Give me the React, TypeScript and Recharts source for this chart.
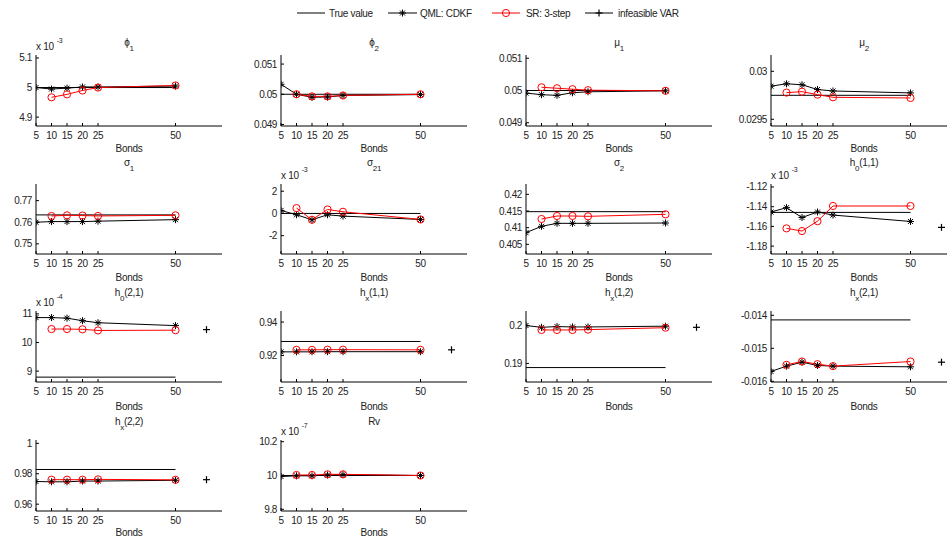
import React from "react";
import { Line, LineChart, XAxis, YAxis } from "recharts";

// x positions (number of bonds)
const bonds = [5, 10, 15, 20, 25, 50];
const srBonds = [10, 15, 20, 25, 50];
const trueSpan = [5, 50];
const varBond = 60;
const xTicks = [5, 10, 15, 20, 25, 50];

// QML: CDKF estimates (one per bond count)
const phi1Qml = [5.0, 4.995, 4.998, 5.002, 5.002, 5.005];
const phi2Qml = [0.05033, 0.05, 0.0499, 0.04991, 0.04996, 0.04999];
const mu1Qml = [0.04992, 0.04987, 0.04985, 0.04993, 0.04996, 0.04999];
const mu2Qml = [0.029845, 0.02987, 0.02986, 0.02981, 0.029795, 0.029775];
const sigma1Qml = [0.76, 0.7603, 0.7603, 0.7603, 0.7605, 0.7612];
const sigma21Qml = [0.27, -0.12, -0.57, -0.12, -0.24, -0.54];
const sigma2Qml = [0.4085, 0.4104, 0.4113, 0.4113, 0.4113, 0.4114];
const h011Qml = [-1.1454, -1.141, -1.151, -1.1454, -1.1485, -1.155];
const h021Qml = [10.87, 10.87, 10.85, 10.76, 10.69, 10.59];
const hx11Qml = [0.9222, 0.9222, 0.9222, 0.9223, 0.9223, 0.9223];
const hx12Qml = [0.19997, 0.1995, 0.1997, 0.1996, 0.1996, 0.1998];
const hx21Qml = [-0.0157, -0.01554, -0.01542, -0.01552, -0.01554, -0.01556];
const hx22Qml = [0.9749, 0.9747, 0.9747, 0.9752, 0.9752, 0.9757];
const rvQml = [9.994, 9.998, 9.998, 10.003, 10.005, 10.0];

// SR: 3-step estimates (from 10 bonds on)
const phi1Sr = [4.967, 4.977, 4.99, 5.0, 5.007];
const phi2Sr = [0.05, 0.04993, 0.04993, 0.04996, 0.05];
const mu1Sr = [0.0501, 0.05007, 0.05004, 0.05001, 0.04999];
const mu2Sr = [0.029778, 0.029788, 0.029757, 0.029729, 0.029722];
const sigma1Sr = [0.7629, 0.7632, 0.7631, 0.7629, 0.7632];
const sigma21Sr = [0.48, -0.57, 0.36, 0.15, -0.54];
const sigma2Sr = [0.4126, 0.4135, 0.4135, 0.4134, 0.414];
const h011Sr = [-1.162, -1.1647, -1.1547, -1.1393, -1.1393];
const h021Sr = [10.47, 10.47, 10.46, 10.42, 10.43];
const hx11Sr = [0.9234, 0.9234, 0.9235, 0.9235, 0.9234];
const hx12Sr = [0.1988, 0.1988, 0.1988, 0.1989, 0.1994];
const hx21Sr = [-0.0155, -0.0154, -0.01548, -0.01554, -0.0154];
const hx22Sr = [0.9761, 0.9761, 0.9761, 0.9763, 0.976];
const rvSr = [10.003, 10.003, 10.007, 10.007, 10.0];

const trueValues = [5, 0.05, 0.05, 0.02975, 0.7634, 0, 0.4148, -1.1458, 8.79, 0.9284, 0.1889, -0.01414, 0.9828, 10];
const varValues = [null, null, null, null, null, null, null, -1.161, 10.45, 0.9234, 0.1995, -0.01542, 0.9761, null];

const titles = [
  ["ϕ", "1", ""], ["ϕ", "2", ""], ["μ", "1", ""], ["μ", "2", ""],
  ["σ", "1", ""], ["σ", "21", ""], ["σ", "2", ""], ["h", "0", "(1,1)"],
  ["h", "0", "(2,1)"], ["h", "x", "(1,1)"], ["h", "x", "(1,2)"], ["h", "x", "(2,1)"],
  ["h", "x", "(2,2)"], ["Rv", "", ""],
];
const exponents = ["-3", null, null, null, null, "-3", null, "-3", "-4", null, null, null, null, "-7"];
const yDomains = [
  [4.87, 5.11], [0.04895, 0.0513], [0.0489, 0.0511], [0.02943, 0.03017],
  [0.7453, 0.7777], [-3.65, 2.65], [0.4021, 0.4231], [-1.188, -1.117],
  [8.62, 11.1], [0.9042, 0.9466], [0.1851, 0.2038], [-0.01602, -0.01387],
  [0.9555, 1.0022], [9.79, 10.21],
];
const yTicks = [
  [4.9, 5, 5.1], [0.049, 0.05, 0.051], [0.049, 0.05, 0.051], [0.0295, 0.03],
  [0.75, 0.76, 0.77], [-2, 0, 2], [0.405, 0.41, 0.415, 0.42], [-1.18, -1.16, -1.14, -1.12],
  [9, 10, 11], [0.92, 0.94], [0.19, 0.2], [-0.016, -0.015, -0.014],
  [0.96, 0.98, 1], [9.8, 10, 10.2],
];

const qmlSeries = [phi1Qml, phi2Qml, mu1Qml, mu2Qml, sigma1Qml, sigma21Qml, sigma2Qml, h011Qml, h021Qml, hx11Qml, hx12Qml, hx21Qml, hx22Qml, rvQml];
const srSeries = [phi1Sr, phi2Sr, mu1Sr, mu2Sr, sigma1Sr, sigma21Sr, sigma2Sr, h011Sr, h021Sr, hx11Sr, hx12Sr, hx21Sr, hx22Sr, rvSr];

const FONT = '"Liberation Sans", Arial, Helvetica, sans-serif';
const TEXT = "#222";
const COL_X = [36, 281, 526, 771];
const ROW_TOP = [55, 184, 311, 440];
const PLOT_H = [71, 70, 71, 71];
const TITLE_Y = [43, 163, 293, 422];
const BONDS_Y = [149, 278, 407, 533];
const PLOT_W = 186;
const LEFT_W = 40;

const Asterisk = (props: any) => {
  const { cx, cy, index } = props;
  if (cx == null || cy == null) return <g key={index} />;
  const r = 3.5;
  const d = 2.5;
  return (
    <g key={index} stroke="#000" strokeWidth={1}>
      <line x1={cx - r} y1={cy} x2={cx + r} y2={cy} />
      <line x1={cx} y1={cy - r} x2={cx} y2={cy + r} />
      <line x1={cx - d} y1={cy - d} x2={cx + d} y2={cy + d} />
      <line x1={cx - d} y1={cy + d} x2={cx + d} y2={cy - d} />
    </g>
  );
};

const Ring = (props: any) => {
  const { cx, cy, index } = props;
  if (cx == null || cy == null) return <g key={index} />;
  return <circle key={index} cx={cx} cy={cy} r={3.6} fill="none" stroke="#ff0000" strokeWidth={1} />;
};

const Plus = (props: any) => {
  const { cx, cy, index } = props;
  if (cx == null || cy == null) return <g key={index} />;
  const r = 3.5;
  return (
    <g key={index} stroke="#000" strokeWidth={1.2}>
      <line x1={cx - r} y1={cy} x2={cx + r} y2={cy} />
      <line x1={cx} y1={cy - r} x2={cx} y2={cy + r} />
    </g>
  );
};

const XTick = (props: any) => {
  const { x, y, payload } = props;
  return (
    <g>
      <line x1={x} y1={y - 6} x2={x} y2={y - 9} stroke="#000" />
      <text x={x} y={y} dy="0.71em" textAnchor="middle" fontSize={10} fontFamily={FONT} fill={TEXT} letterSpacing={-0.4}>
        {String(payload.value)}
      </text>
    </g>
  );
};

const YTick = (props: any) => {
  const { x, y, payload } = props;
  return (
    <g>
      <line x1={x + 4} y1={y} x2={x + 7} y2={y} stroke="#000" />
      <text x={x} y={y} dy="0.35em" textAnchor="end" fontSize={10} fontFamily={FONT} fill={TEXT} letterSpacing={-0.4}>
        {String(payload.value)}
      </text>
    </g>
  );
};

function Panel({ i }: { i: number }) {
  const row = Math.floor(i / 4);
  const col = i % 4;
  const left = COL_X[col];
  const top = ROW_TOP[row];
  const h = PLOT_H[row];
  const [main, sub, rest] = titles[i];

  const trueData = trueSpan.map((x) => ({ x, y: trueValues[i] }));
  const qmlData = bonds.map((x, k) => ({ x, y: qmlSeries[i][k] }));
  const srData = srBonds.map((x, k) => ({ x, y: srSeries[i][k] }));
  const varData = varValues[i] == null ? [] : [{ x: varBond, y: varValues[i] }];

  return (
    <>
      <div
        style={{
          position: "absolute",
          left: left + PLOT_W / 2 - 60,
          width: 120,
          top: TITLE_Y[row] - 7,
          textAlign: "center",
          fontSize: 10,
          lineHeight: "14px",
          whiteSpace: "nowrap",
        }}
      >
        {main}
        {sub && (
          <span style={{ fontSize: 8, position: "relative", top: 5 }}>{sub}</span>
        )}
        {rest}
      </div>
      {exponents[i] && (
        <div style={{ position: "absolute", left, top: top - 15, fontSize: 10, lineHeight: "14px", whiteSpace: "nowrap" }}>
          x 10
          <span style={{ fontSize: 7, position: "relative", top: -7, marginLeft: 3 }}>{exponents[i]}</span>
        </div>
      )}
      <div
        style={{
          position: "absolute",
          left: left + PLOT_W / 2 - 40,
          width: 80,
          top: BONDS_Y[row] - 7,
          textAlign: "center",
          fontSize: 10,
          lineHeight: "14px",
        }}
      >
        Bonds
      </div>
      <div style={{ position: "absolute", left: left - LEFT_W, top: top - 5 }}>
        <LineChart width={LEFT_W + PLOT_W + 12} height={h + 35} margin={{ top: 5, right: 12, bottom: 0, left: 0 }}>
          <XAxis
            dataKey="x"
            type="number"
            domain={[5, 65]}
            ticks={xTicks}
            interval={0}
            allowDataOverflow
            height={30}
            tickSize={0}
            tickMargin={6}
            tickLine={false}
            axisLine={{ stroke: "#000", strokeWidth: 1 }}
            tick={<XTick />}
          />
          <YAxis
            type="number"
            domain={yDomains[i]}
            ticks={yTicks[i]}
            interval={0}
            allowDataOverflow
            width={LEFT_W}
            tickSize={0}
            tickMargin={4}
            tickLine={false}
            axisLine={{ stroke: "#000", strokeWidth: 1 }}
            tick={<YTick />}
          />
          <Line data={trueData} dataKey="y" stroke="#000" strokeWidth={1} dot={false} isAnimationActive={false} />
          <Line data={qmlData} dataKey="y" stroke="#000" strokeWidth={1} dot={Asterisk} isAnimationActive={false} />
          <Line data={srData} dataKey="y" stroke="#ff0000" strokeWidth={1} dot={Ring} isAnimationActive={false} />
          <Line data={varData} dataKey="y" stroke="none" dot={Plus} isAnimationActive={false} />
        </LineChart>
      </div>
    </>
  );
}

function Legend() {
  const y = 13;
  return (
    <svg width={947} height={26} style={{ position: "absolute", left: 0, top: 0 }}>
      <g fontSize={10} fontFamily={FONT} fill={TEXT} letterSpacing={-0.3}>
        <line x1={297} y1={y} x2={325} y2={y} stroke="#000" />
        <text x={329} y={y + 3.5}>True value</text>

        <line x1={388} y1={y} x2={417} y2={y} stroke="#000" />
        <Asterisk cx={402.5} cy={y} index="l1" />
        <text x={420} y={y + 3.5}>QML: CDKF</text>

        <line x1={492} y1={y} x2={520} y2={y} stroke="#ff0000" />
        <Ring cx={506} cy={y} index="l2" />
        <text x={526} y={y + 3.5}>SR: 3-step</text>

        <line x1={585} y1={y} x2={613} y2={y} stroke="#000" />
        <Plus cx={599} cy={y} index="l3" />
        <text x={618} y={y + 3.5}>infeasible VAR</text>
      </g>
    </svg>
  );
}

export default function App() {
  return (
    <div
      style={{
        position: "absolute",
        left: 0,
        top: 0,
        width: 947,
        height: 540,
        overflow: "hidden",
        background: "#fff",
        fontFamily: FONT,
        color: TEXT,
        letterSpacing: -0.3,
      }}
    >
      <Legend />
      {titles.map((_, i) => (
        <Panel key={i} i={i} />
      ))}
    </div>
  );
}
